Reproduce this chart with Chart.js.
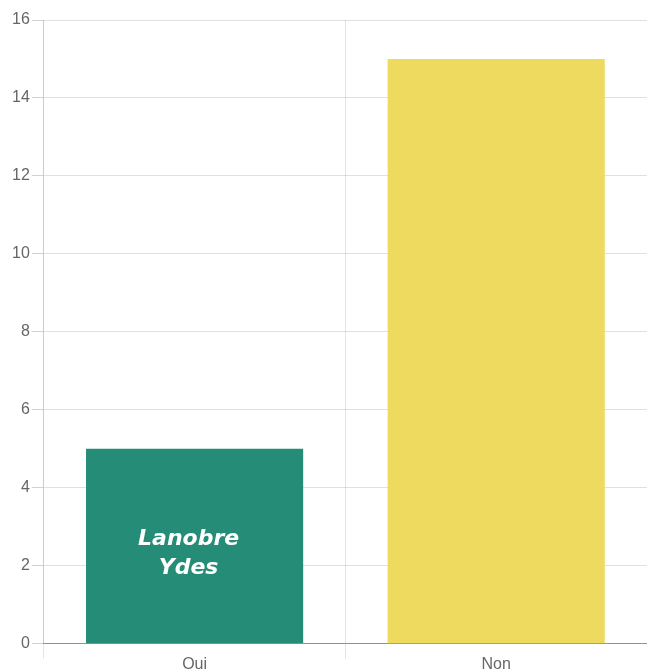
<!DOCTYPE html>
<html>
<head>
<meta charset="utf-8">
<script src="https://cdn.jsdelivr.net/npm/chart.js@4"></script>
<style>
    body { margin: 0; background: #fff; }
    #wrap { width: 647px; height: 670px; }
</style>
</head>
<body>
<div id="wrap"><canvas id="myChart"></canvas></div>
<script>
const categories = ['Oui', 'Non'];
const counts = [5, 15];
const barColors = ['#258d77', '#eeda5e'];
const barNotes = [['Lanobre', 'Ydes'], []];
const yTicks = [0, 2, 4, 6, 8, 10, 12, 14, 16];

// writes the commune name inside its bar
const notePlugin = {
    id: 'notes',
    afterDatasetsDraw(chart) {
        const ctx = chart.ctx;
        const meta = chart.getDatasetMeta(0);
        ctx.save();
        ctx.fillStyle = '#fff';
        ctx.font = 'italic bold 22px "DejaVu Sans", sans-serif';
        ctx.textAlign = 'center';
        ctx.textBaseline = 'middle';
        meta.data.forEach((bar, i) => {
            const lines = barNotes[i];
            if (!lines.length) return;
            const midY = (bar.y + bar.base) / 2 + 8;
            lines.forEach((line, j) => {
                ctx.fillText(line, bar.x - 6, midY + (j - (lines.length - 1) / 2) * 29);
            });
        });
        ctx.restore();
    }
};

const ctx = document.getElementById('myChart').getContext('2d');
new Chart(ctx, {
    type: 'bar',
    data: {
        labels: categories,
        datasets: [{
            data: counts,
            backgroundColor: barColors,
            borderWidth: 0
        }]
    },
    options: {
        responsive: true,
        maintainAspectRatio: false,
        animation: false,
        layout: { padding: { top: 20, right: 0, left: 10, bottom: 0 } },
        plugins: {
            legend: { display: false },
            tooltip: { enabled: false }
        },
        scales: {
            x: {
                grid: { color: 'rgba(0,0,0,0.1)', tickLength: 15 },
                border: { color: 'rgba(0,0,0,0.35)' },
                ticks: { color: '#666', font: { family: 'Arial, "Liberation Sans"', size: 16 }, padding: -4 }
            },
            y: {
                min: yTicks[0],
                max: yTicks[yTicks.length - 1],
                grid: { color: 'rgba(0,0,0,0.12)', tickColor: 'rgba(0,0,0,0.18)', tickLength: 12 },
                border: { color: 'rgba(0,0,0,0.12)' },
                ticks: {
                    stepSize: 2,
                    color: '#666',
                    padding: 2,
                    font: { family: 'Arial, "Liberation Sans"', size: 16 }
                },
                afterBuildTicks(axis) {
                    axis.ticks = yTicks.map(v => ({ value: v }));
                }
            }
        }
    },
    plugins: [notePlugin]
});
</script>
</body>
</html>
